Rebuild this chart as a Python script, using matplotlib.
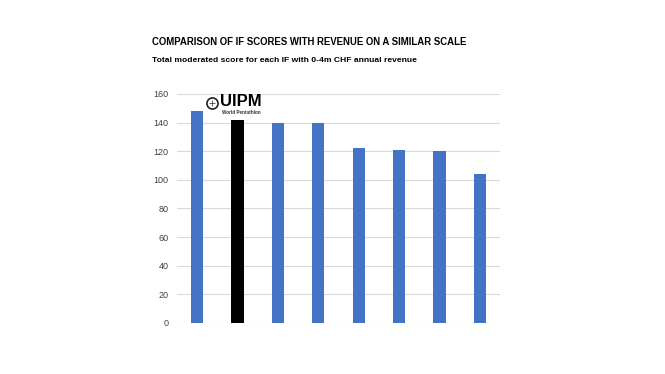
import matplotlib
matplotlib.use("Agg")
import matplotlib.pyplot as plt
from matplotlib.lines import Line2D

categories = ["IF 1", "UIPM", "IF 3", "IF 4", "IF 5", "IF 6", "IF 7", "IF 8"]
scores = [148, 142, 140, 140, 122, 121, 120, 104]
highlight = "UIPM"
yticks = [0, 20, 40, 60, 80, 100, 120, 140, 160]

plt.rcParams['font.family'] = ['Liberation Sans', 'DejaVu Sans']

fig = plt.figure(figsize=(6.65, 3.74), dpi=100)
ax = fig.add_axes([0.266, 0.1364, 0.486, 0.6123])

colors = ["#000000" if c == highlight else "#4472C4" for c in categories]
x = list(range(len(categories)))
ax.bar(x, scores, width=0.3, color=colors, zorder=3)
ax.set_xlim(-0.5, len(categories) - 0.5)
ax.set_ylim(0, 160)
ax.set_yticks(yticks)
ax.set_yticklabels([str(t) for t in yticks], fontsize=6.5, color="#404040")
ax.set_xticks([])
ax.tick_params(axis='y', length=0, pad=6)
ax.grid(axis='y', color="#d9d9d9", linewidth=0.8, zorder=0)
for s in ax.spines.values():
    s.set_visible(False)

fig.text(152/665, 1 - 42/374, "COMPARISON OF IF SCORES WITH REVENUE ON A SIMILAR SCALE",
         fontsize=6.9, fontweight='bold', va='center', ha='left')
fig.text(152/665, 1 - 61/374, "Total moderated score for each IF with 0-4m CHF annual revenue",
         fontsize=6.1, fontweight='bold', va='center', ha='left')

# logo
fig.add_artist(Line2D([212/665], [1 - 103/374], marker='o', markersize=8,
                      markerfacecolor='none', markeredgecolor='#222222',
                      markeredgewidth=1.2, transform=fig.transFigure))
fig.add_artist(Line2D([212/665], [1 - 103/374], marker='$\\u2295$' if False else '+',
                      markersize=5, markeredgecolor='#444444', markeredgewidth=0.6,
                      transform=fig.transFigure))
fig.text(220/665, 1 - 102/374, "UIPM", fontsize=12, fontweight='bold', va='center', ha='left')
fig.text(222/665, 1 - 113/374, "World Pentathlon", fontsize=3.3, fontweight='bold',
         va='center', ha='left', color="#333333")

fig.savefig("out.png", dpi=100)
